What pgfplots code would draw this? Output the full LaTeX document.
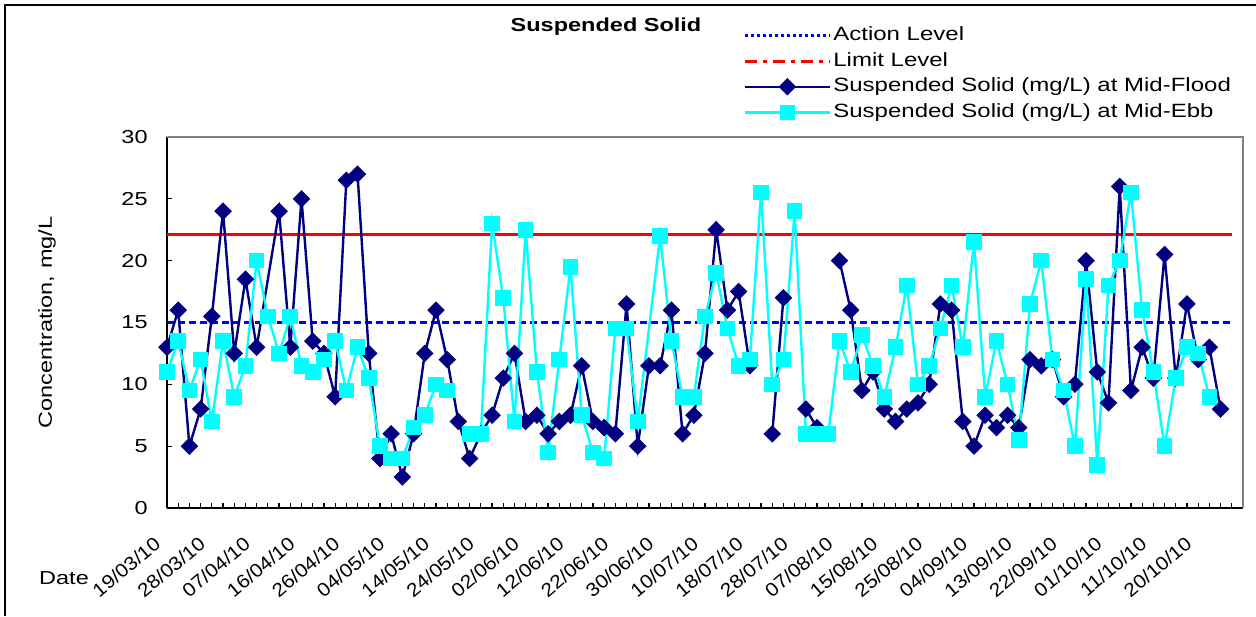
\documentclass[border=0pt]{standalone}
\usepackage{fontspec}
\setmainfont{Liberation Sans}[FakeStretch=1.25]
\newfontfamily\datefont{Liberation Sans}[FakeStretch=1.1]
\usepackage{pgfplots}
\pgfplotsset{compat=1.18}
\definecolor{navyc}{RGB}{0,0,128}
\definecolor{aquac}{RGB}{0,255,255}
\definecolor{actblue}{RGB}{0,0,255}
\definecolor{limred}{RGB}{255,0,0}
\definecolor{bordergray}{RGB}{128,128,128}
\begin{document}
\begin{tikzpicture}
\useasboundingbox (0pt,0pt) rectangle (628pt,-308pt);
\draw[black, line width=0.75pt] (2.5pt,-308pt) -- (2.5pt,-2.5pt) -- (628pt,-2.5pt);
\begin{axis}[
 at={(83.5pt,-254pt)}, anchor=south west,
 width=538pt, height=185.5pt, scale only axis,
 xmin=0, xmax=96, ymin=0, ymax=30,
 axis lines*=left,
 axis line style={black, line width=0.8pt},
 xtick={0,4,...,92},
 minor xtick={0,...,96},
 xticklabels={19/03/10,28/03/10,07/04/10,16/04/10,26/04/10,04/05/10,14/05/10,24/05/10,02/06/10,12/06/10,22/06/10,30/06/10,10/07/10,18/07/10,28/07/10,07/08/10,15/08/10,25/08/10,04/09/10,13/09/10,22/09/10,01/10/10,11/10/10,20/10/10},
 ytick={0,5,...,30},
 tick align=inside,
 major tick length=2.5pt, minor tick length=2.5pt,
 tick style={black, line width=0.6pt},
 font=\fontsize{9.4pt}{11pt}\selectfont,
 /pgf/number format/assume math mode=true,
 xticklabel style={font=\datefont\fontsize{9.5pt}{11pt}\selectfont, xshift=-7pt, yshift=-13.5pt, rotate=40, anchor=north east, inner sep=0pt},
 yticklabel style={anchor=east, inner sep=0pt, xshift=-9.5pt},
 ylabel={Concentration, mg/L},
 ylabel style={at={(axis description cs:-0.1115,0.5)}, anchor=center},
 xlabel={Date},
 xlabel style={at={(axis description cs:-0.0957,-0.1887)}, anchor=center},
 title={Suspended Solid},
 title style={at={(axis description cs:0.408,1.264)}, anchor=center, font=\fontsize{9.4pt}{11pt}\selectfont\bfseries},
 unbounded coords=jump,
 clip=false,
 legend cell align=left,
 legend style={at={(axis description cs:0.5353,1.3046)}, anchor=north west, draw=none, fill=none, inner sep=0pt, row sep=1.85pt, font=\fontsize{9.6pt}{11pt}\selectfont, nodes={inner sep=1pt, text height=7pt, text depth=2pt}, cells={anchor=west}},
 legend image code/.code={\draw[mark repeat=2,mark phase=2,#1] plot coordinates {(0pt,0pt) (21.25pt,0pt) (42.5pt,0pt)};},
]
\addplot[actblue, line width=1.3pt, dash pattern=on 3.5pt off 2pt, legend image code/.code={\draw[actblue, line width=1.3pt, dash pattern=on 1.5pt off 1.5pt] (0pt,0pt) -- (42.5pt,0pt);}] coordinates {(0,15) (95,15)};
\addlegendentry{Action Level}
\addplot[limred, line width=1.5pt, legend image code/.code={\draw[limred, line width=1.5pt, dash pattern=on 6pt off 3pt on 2pt off 3pt] (0pt,0pt) -- (42.5pt,0pt);}] coordinates {(0,22.1) (95,22.1)};
\addlegendentry{Limit Level}
\addplot[navyc, line width=1.2pt, mark=square*, mark size=2.5pt, mark options={rotate=45, solid, fill=navyc}] table {
x y
0 13
1 16
2 5
3 8
4 15.5
5 24
6 12.5
7 18.5
8 13
10 24
11 13
12 25
13 13.5
14 12.5
15 9
16 26.5
17 27
18 12.5
19 4
20 6
21 2.5
22 6
23 12.5
24 16
25 12
26 7
27 4
28 6
29 7.5
30 10.5
31 12.5
32 7
33 7.5
34 6
35 7
36 7.5
37 11.5
38 7
39 6.5
40 6
41 16.5
42 5
43 11.5
44 11.5
45 16
46 6
47 7.5
48 12.5
49 22.5
50 16
51 17.5
52 11.5
53 nan
54 6
55 17
56 nan
57 8
58 6.5
59 nan
60 20
61 16
62 9.5
63 11
64 8
65 7
66 8
67 8.5
68 10
69 16.5
70 16
71 7
72 5
73 7.5
74 6.5
75 7.5
76 6.5
77 12
78 11.5
79 12
80 9
81 10
82 20
83 11
84 8.5
85 26
86 9.5
87 13
88 10.5
89 20.5
90 10.5
91 16.5
92 12
93 13
94 8
};
\addlegendentry{Suspended Solid (mg/L) at Mid-Flood}
\addplot[aquac, line width=1.2pt, mark=square*, mark size=3.3pt, mark options={solid, fill=aquac}] table {
x y
0 11
1 13.5
2 9.5
3 12
4 7
5 13.5
6 9
7 11.5
8 20
9 15.5
10 12.5
11 15.5
12 11.5
13 11
14 12
15 13.5
16 9.5
17 13
18 10.5
19 5
20 4
21 4
22 6.5
23 7.5
24 10
25 9.5
26 nan
27 6
28 6
29 23
30 17
31 7
32 22.5
33 11
34 4.5
35 12
36 19.5
37 7.5
38 4.5
39 4
40 14.5
41 14.5
42 7
44 22
45 13.5
46 9
47 9
48 15.5
49 19
50 14.5
51 11.5
52 12
53 25.5
54 10
55 12
56 24
57 6
58 6
59 6
60 13.5
61 11
62 14
63 11.5
64 9
65 13
66 18
67 10
68 11.5
69 14.5
70 18
71 13
72 21.5
73 9
74 13.5
75 10
76 5.5
77 16.5
78 20
79 12
80 9.5
81 5
82 18.5
83 3.5
84 18
85 20
86 25.5
87 16
88 11
89 5
90 10.5
91 13
92 12.5
93 9
};
\addlegendentry{Suspended Solid (mg/L) at Mid-Ebb}
\draw[bordergray, line width=1pt] (rel axis cs:0,1) -- (rel axis cs:1,1) -- (rel axis cs:1,0);
\end{axis}
\end{tikzpicture}
\end{document}
